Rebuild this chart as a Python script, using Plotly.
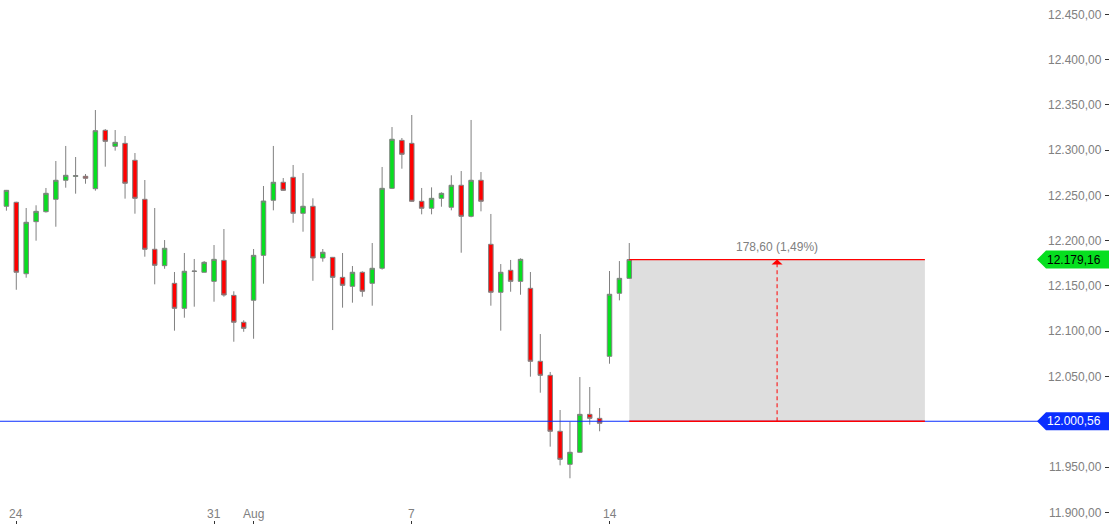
import plotly.graph_objects as go

# ---- data ----
candle_index = list(range(0, 64))
open_ = [12238.0, 12242.4, 12163.5, 12221.0, 12232.0, 12245.7, 12266.7, 12271.0, 12271.1, 12257.4,
         12321.9, 12304.2, 12307.5, 12288.8, 12245.7, 12190.5, 12172.4, 12152.9, 12125.3, 12166.0,
         12165.1, 12155.1, 12178.3, 12139.6, 12109.9, 12134.2, 12183.8, 12244.6, 12264.5, 12270.0,
         12230.2, 12238.0, 12180.9, 12181.6, 12159.5, 12149.6, 12165.1, 12152.9, 12169.5, 12257.8,
         12310.8, 12307.5, 12243.5, 12235.8, 12246.8, 12236.9, 12261.2, 12226.9, 12266.7, 12196.0,
         12143.0, 12167.3, 12155.1, 12147.4, 12066.8, 12051.3, 11989.5, 11953.0, 11966.3, 12008.2,
         12003.8, 12072.3, 12141.9, 12158.4]
high = [12256.0, 12243.0, 12236.1, 12239.1, 12258.2, 12288.0, 12304.6, 12292.4, 12273.6, 12344.3,
        12323.3, 12322.2, 12315.6, 12296.8, 12267.0, 12236.1, 12200.7, 12165.4, 12186.4, 12179.8,
        12177.5, 12195.2, 12212.9, 12144.1, 12112.1, 12190.8, 12260.4, 12304.6, 12269.2, 12283.6,
        12274.7, 12246.8, 12190.8, 12182.0, 12186.4, 12172.0, 12166.2, 12197.4, 12281.4, 12325.5,
        12313.4, 12338.8, 12258.2, 12258.9, 12253.4, 12272.2, 12276.9, 12333.3, 12275.8, 12229.5,
        12174.2, 12178.7, 12180.5, 12165.4, 12096.9, 12055.0, 12013.0, 12000.1, 12049.4, 12038.4,
        12015.2, 12166.5, 12177.5, 12197.4]
low = [12233.1, 12145.8, 12159.1, 12200.0, 12231.0, 12215.4, 12258.5, 12251.9, 12262.9, 12255.2,
       12281.7, 12299.4, 12246.4, 12229.8, 12182.3, 12151.8, 12169.0, 12100.6, 12114.9, 12127.1,
       12165.0, 12132.6, 12138.1, 12088.4, 12099.4, 12091.7, 12152.5, 12233.5, 12255.0, 12219.8,
       12209.9, 12155.7, 12176.8, 12101.3, 12126.0, 12131.5, 12138.1, 12128.2, 12168.0, 12257.0,
       12279.5, 12243.0, 12229.1, 12229.1, 12237.5, 12233.5, 12186.7, 12225.8, 12232.4, 12128.2,
       12100.6, 12143.6, 12140.3, 12049.8, 12032.1, 11972.5, 11951.9, 11937.6, 11966.0, 11996.8,
       11989.5, 12064.1, 12134.1, 12158.0]
close = [12255.6, 12165.1, 12220.3, 12232.4, 12252.3, 12266.7, 12272.2, 12271.8, 12268.9, 12321.5,
         12309.7, 12308.6, 12263.4, 12246.8, 12190.5, 12172.8, 12191.6, 12125.3, 12166.2, 12166.4,
         12176.1, 12179.4, 12140.0, 12109.9, 12103.2, 12183.8, 12243.8, 12264.5, 12255.6, 12230.2,
         12238.0, 12180.9, 12187.2, 12159.5, 12150.7, 12165.1, 12144.1, 12169.5, 12257.8, 12312.0,
         12295.4, 12243.5, 12235.8, 12246.8, 12252.3, 12261.2, 12226.9, 12266.7, 12243.5, 12143.0,
         12165.1, 12155.1, 12179.4, 12066.8, 12051.3, 11989.5, 11958.5, 11966.3, 12008.2, 12003.8,
         11998.3, 12140.8, 12158.4, 12179.16]

x_tick_index = [1, 21, 25, 41, 61]
x_tick_labels = ["24", "31", "Aug", "7", "14"]
# 12.000,00 is hidden behind the blue price label in the reference
y_tick_values = [11900, 11950, 12050, 12100, 12150, 12200, 12250, 12300, 12350, 12400, 12450]

ref_price = 12000.56
last_price = 12179.16
measure_start = 63
measure_end = 92.9

x_range = [-0.648, 111.52]
y_range = [11887.1, 12465.8]


def de(v):
    return f"{v:,.2f}".replace(",", "X").replace(".", ",").replace("X", ".")


GREEN = "#06df1f"
RED = "#ff0000"
BLUE = "#0a2eff"
GRAY = "#808080"
FONT = "Liberation Sans, Arial, sans-serif"

fig = go.Figure()
fig.add_trace(go.Candlestick(
    x=candle_index, open=open_, high=high, low=low, close=close,
    increasing=dict(fillcolor=GREEN, line=dict(color=GRAY, width=1)),
    decreasing=dict(fillcolor=RED, line=dict(color=GRAY, width=1)),
    whiskerwidth=0, hoverinfo="skip", showlegend=False,
))

mid = (measure_start + measure_end) / 2
shapes = []
shapes.append(dict(type="rect", xref="x", yref="y", x0=measure_start, x1=measure_end,
                   y0=ref_price, y1=last_price, fillcolor="#dedede", line=dict(width=0), layer="below"))
# reference price line across the chart
shapes.append(dict(type="line", xref="paper", yref="y", x0=0, x1=1, y0=ref_price, y1=ref_price,
                   line=dict(color=BLUE, width=1), layer="above"))
# measurement box edges
for yv in (last_price, ref_price):
    shapes.append(dict(type="line", xref="x", yref="y", x0=measure_start, x1=measure_end,
                       y0=yv, y1=yv, line=dict(color=RED, width=1.3), layer="above"))
shapes.append(dict(type="line", xref="x", yref="y", x0=mid, x1=mid, y0=ref_price, y1=last_price,
                   line=dict(color=RED, width=1, dash="4px,3px"), layer="above"))
# arrow head
shapes.append(dict(type="path", xref="x", yref="y", xsizemode="pixel", ysizemode="pixel",
                   xanchor=mid, yanchor=last_price, path="M -5.5,-5 L 5.5,-5 L 0,0 Z",
                   fillcolor=RED, line=dict(width=0), layer="above"))
# price labels on the axis
for val, col in [(last_price, GREEN), (ref_price, BLUE)]:
    shapes.append(dict(type="path", xref="paper", yref="y", xsizemode="pixel", ysizemode="pixel",
                       xanchor=1, yanchor=val, path="M -72,0 L -63,9 L 0,9 L 0,-9 L -63,-9 Z",
                       fillcolor=col, line=dict(width=0), layer="above"))

annotations = [
    dict(x=1, xref="paper", y=last_price, yref="y", text=de(last_price), showarrow=False,
         xanchor="right", yanchor="middle", xshift=-6, font=dict(family=FONT, size=12, color="#000000")),
    dict(x=1, xref="paper", y=ref_price, yref="y", text=de(ref_price), showarrow=False,
         xanchor="right", yanchor="middle", xshift=-6, font=dict(family=FONT, size=12, color="#ffffff")),
    dict(x=mid, xref="x", y=last_price, yref="y",
         text=f"{de(last_price - ref_price)} ({(last_price - ref_price) / ref_price * 100:.2f}%)".replace(".", ","),
         showarrow=False, xanchor="center", yanchor="bottom", yshift=4,
         font=dict(family=FONT, size=12, color=GRAY)),
]
# date labels along the bottom
for xi, lab in zip(x_tick_index, x_tick_labels):
    annotations.append(dict(x=xi, xref="x", y=0, yref="paper", text=lab, showarrow=False,
                            xanchor="center", yanchor="middle", yshift=10,
                            font=dict(family=FONT, size=12, color=GRAY)))

fig.update_layout(
    width=1109, height=524,
    margin=dict(l=0, r=0, t=0, b=0),
    paper_bgcolor="white", plot_bgcolor="white",
    boxgap=0.35,
    shapes=shapes, annotations=annotations,
    font=dict(family=FONT, size=12, color=GRAY),
    xaxis=dict(range=x_range, showgrid=False, zeroline=False, showline=False,
               rangeslider=dict(visible=False),
               tickmode="array", tickvals=x_tick_index, ticktext=x_tick_labels,
               ticks="inside", ticklen=3, tickcolor="#333333", tickwidth=1,
               showticklabels=False, automargin=False),
    yaxis=dict(range=y_range, side="right", showgrid=False, zeroline=False, showline=False,
               tickmode="array", tickvals=y_tick_values, ticktext=[de(v) for v in y_tick_values],
               ticks="inside", ticklen=4, tickcolor="#333333", tickwidth=1,
               ticklabelposition="inside", ticklabelstandoff=3, automargin=False,
               tickfont=dict(family=FONT, size=12, color=GRAY)),
)

fig.write_html("out.html", config={"displayModeBar": False},
               post_script="document.body.style.margin='0';document.body.style.overflow='hidden';")
